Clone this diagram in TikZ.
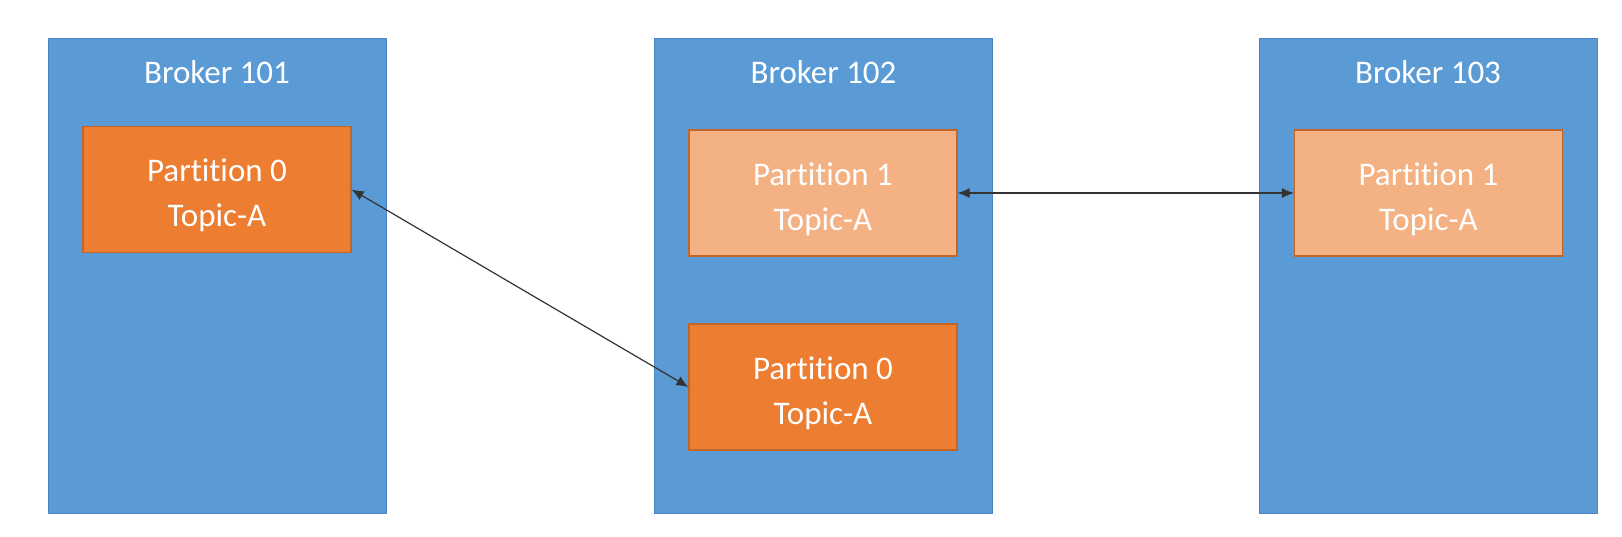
\documentclass[tikz,border=0pt]{standalone}
\usepackage{fontspec}
\setmainfont[Ligatures=NoCommon]{Carlito}
\usetikzlibrary{arrows.meta}
\definecolor{brokerblue}{HTML}{5B9BD5}
\definecolor{brokerline}{HTML}{4A83BD}
\definecolor{leaderorange}{HTML}{ED7D31}
\definecolor{followerorange}{HTML}{F4B183}
\definecolor{partline}{HTML}{C0662A}
\newcommand{\parttopic}[2]{\rule{0pt}{35pt}#1\\#2}
\begin{document}
\begin{tikzpicture}[x=1pt,y=-1pt,
  broker/.style={draw=brokerline,fill=brokerblue,line width=1pt,minimum width=338pt,minimum height=475pt,inner sep=0pt},
  brokername/.style={text=white,font=\fontsize{33}{40}\selectfont},
  leader/.style={draw=partline,fill=leaderorange,line width=1.2pt,minimum width=268pt,minimum height=126pt,inner sep=0pt,text=white,align=center,font=\fontsize{33}{45}\selectfont},
  follower/.style={leader,fill=followerorange},
  link/.style={{Latex[length=12pt,width=10pt]}-{Latex[length=12pt,width=10pt]},line width=1.2pt,draw=black!80}]
\useasboundingbox (0,0) rectangle (1622,536);
\node[broker](b101) at (217,275.5){};
\node[broker](b102) at (823.5,275.5){};
\node[broker](b103) at (1428,275.5){};
\node[brokername](n101) at (217,72){Broker 101};
\node[brokername](n102) at (823.5,72){Broker 102};
\node[brokername](n103) at (1428,72){Broker 103};
\node[leader](p0a) at (217,189.5){\parttopic{Partition 0}{Topic-A}};
\node[follower](p1b) at (823,193){\parttopic{Partition 1}{Topic-A}};
\node[leader](p0b) at (823,387){\parttopic{Partition 0}{Topic-A}};
\node[follower](p1c) at (1428.5,193){\parttopic{Partition 1}{Topic-A}};
\draw[link](p0a.east)--(p0b.west);
\draw[link](p1b.east)--(p1c.west);
\end{tikzpicture}
\end{document}
